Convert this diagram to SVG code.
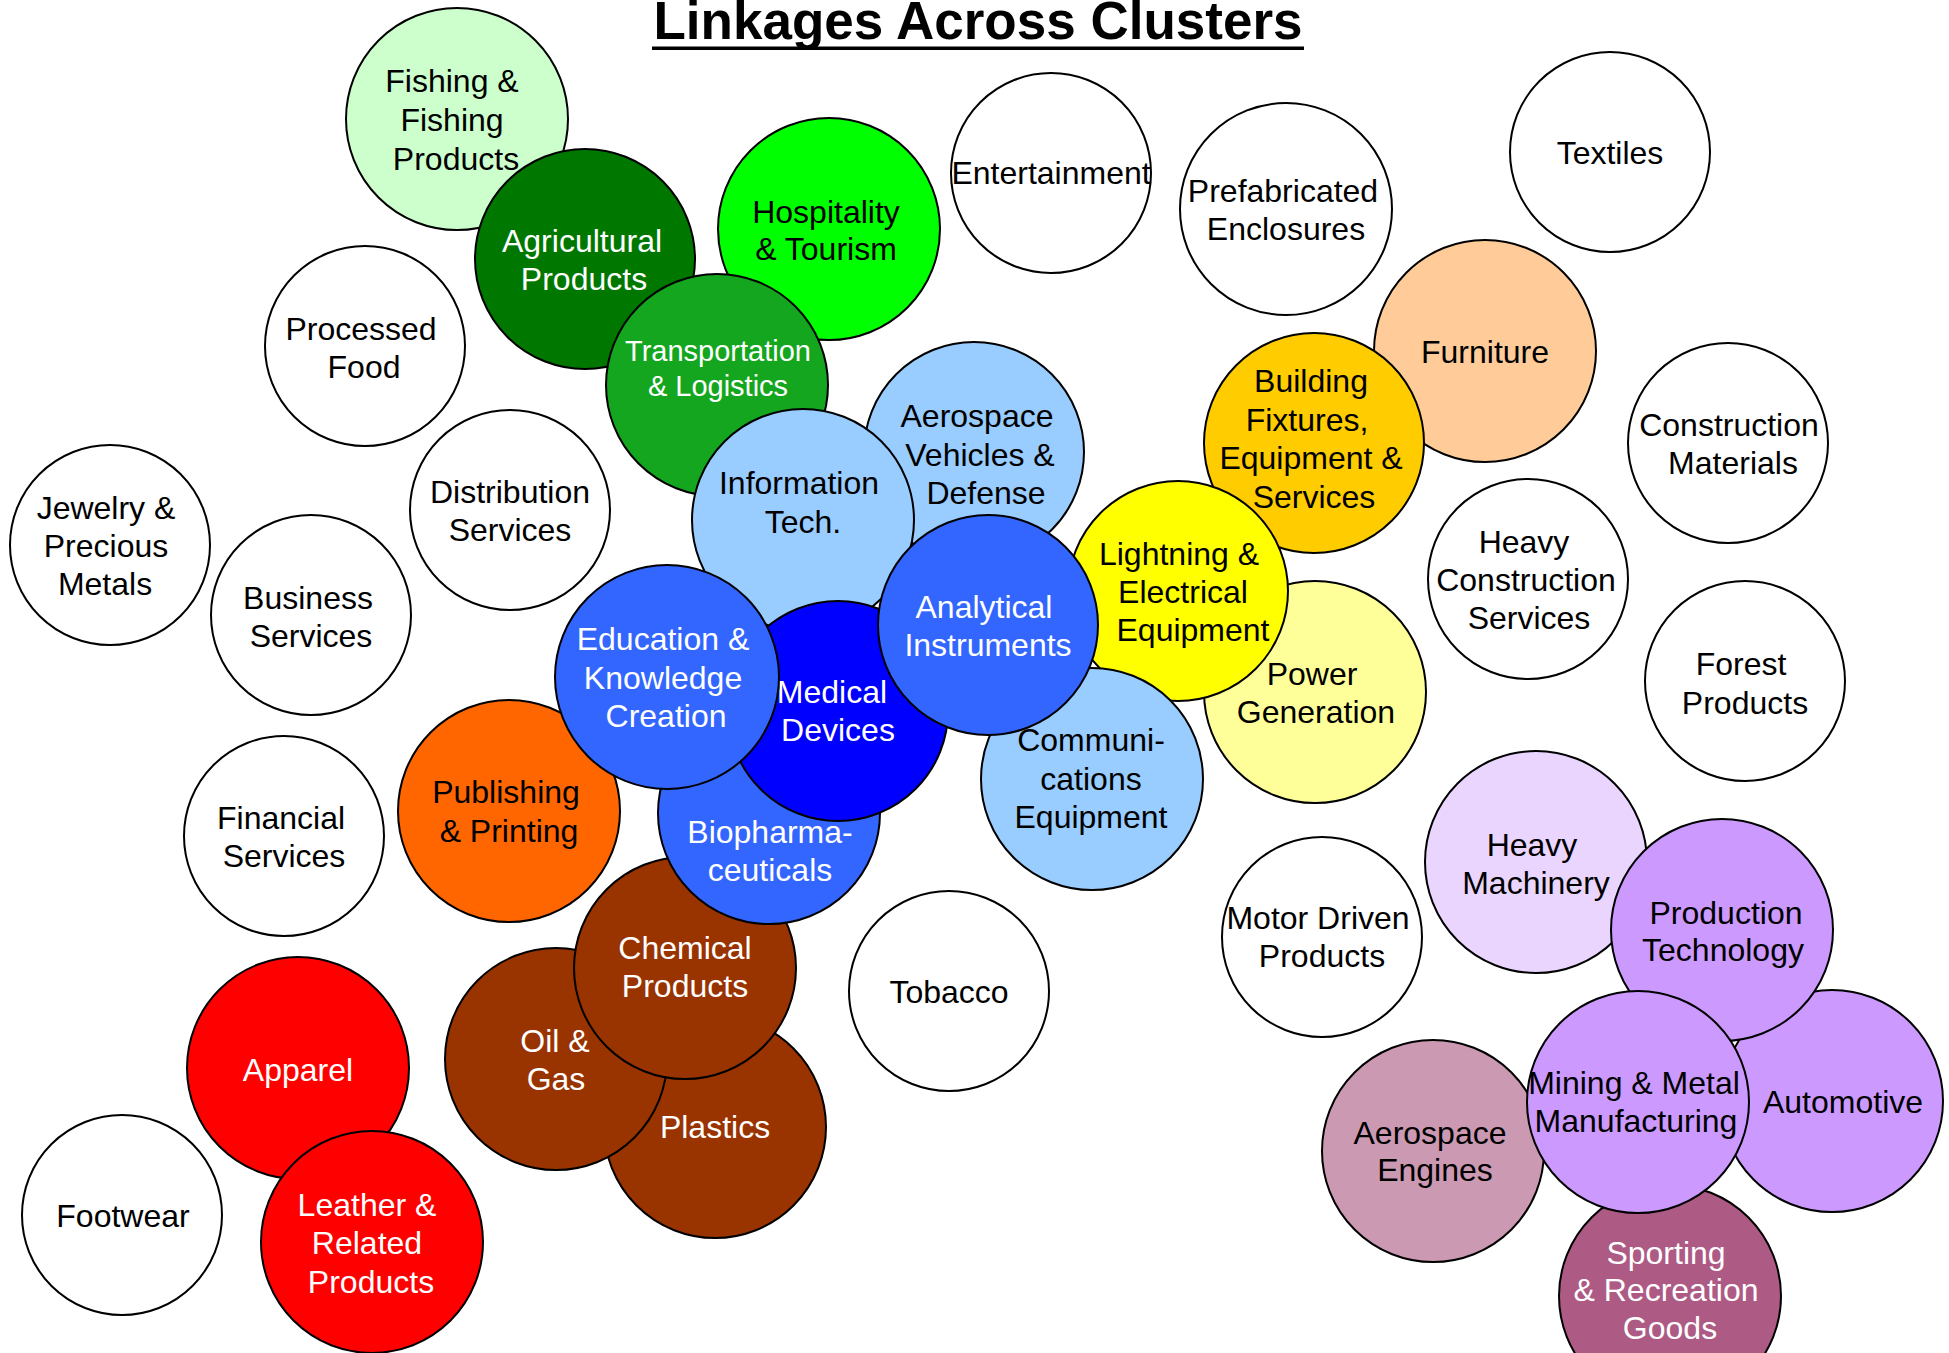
<svg xmlns="http://www.w3.org/2000/svg" width="1949" height="1353" viewBox="0 0 1949 1353">
<style>
circle{stroke:#000;stroke-width:2}
text{font-family:"Liberation Sans",Arial,sans-serif;font-size:32px;text-anchor:middle;fill:#000}
.w{fill:#fff}
.lb{fill:#99CCFF}
.mb{fill:#3366FF}
.br{fill:#993300}
.rd{fill:#FF0000}
.pu{fill:#CC99FF}
.title{font-size:53px;font-weight:bold}
</style>
<rect width="1949" height="1353" fill="#fff"/>
<g id="title">
<text class="title" x="978" y="39">Linkages Across Clusters</text>
<rect x="652" y="46.5" width="652" height="3.5" fill="#000"/>
</g>
<g id="connectors"></g>
<g id="fishing"><circle cx="457" cy="119" r="111" fill="#CCFFCC"/><text x="452" y="92">Fishing &amp;</text><text x="452" y="131">Fishing</text><text x="456" y="170">Products</text></g>
<g id="agricultural"><circle cx="585" cy="259" r="110" fill="#007800"/><text class="w" x="582" y="252">Agricultural</text><text class="w" x="584" y="290">Products</text></g>
<g id="hospitality"><circle cx="829" cy="229" r="111" fill="#00FF00"/><text x="826" y="223">Hospitality</text><text x="826" y="260">&amp; Tourism</text></g>
<g id="transportation"><circle cx="717" cy="385" r="111" fill="#14A61E"/><text class="w" x="718" y="361" style="font-size:29px">Transportation</text><text class="w" x="718" y="396" style="font-size:29px">&amp; Logistics</text></g>
<g id="entertainment"><circle cx="1051" cy="173" r="100" fill="#fff"/><text x="1051" y="184">Entertainment</text></g>
<g id="prefabricated"><circle cx="1286" cy="209" r="106" fill="#fff"/><text x="1283" y="202">Prefabricated</text><text x="1286" y="240">Enclosures</text></g>
<g id="textiles"><circle cx="1610" cy="152" r="100" fill="#fff"/><text x="1610" y="164">Textiles</text></g>
<g id="processed-food"><circle cx="365" cy="346" r="100" fill="#fff"/><text x="361" y="340">Processed</text><text x="364" y="378">Food</text></g>
<g id="jewelry"><circle cx="110" cy="545" r="100" fill="#fff"/><text x="106" y="519">Jewelry &amp;</text><text x="106" y="557">Precious</text><text x="105" y="595">Metals</text></g>
<g id="business"><circle cx="311" cy="615" r="100" fill="#fff"/><text x="308" y="609">Business</text><text x="311" y="647">Services</text></g>
<g id="distribution"><circle cx="510" cy="510" r="100" fill="#fff"/><text x="510" y="503">Distribution</text><text x="510" y="541">Services</text></g>
<g id="aerospace-vehicles"><circle cx="974" cy="452" r="110" class="lb"/><text x="977" y="427">Aerospace</text><text x="980" y="466">Vehicles &amp;</text><text x="986" y="504">Defense</text></g>
<g id="information-tech"><circle cx="803" cy="520" r="111" class="lb"/><text x="799" y="494">Information</text><text x="803" y="533">Tech.</text></g>
<g id="furniture"><circle cx="1485" cy="351" r="111" fill="#FFCC99"/><text x="1485" y="363">Furniture</text></g>
<g id="building"><circle cx="1314" cy="443" r="110" fill="#FFCC00"/><text x="1311" y="392">Building</text><text x="1307" y="431">Fixtures,</text><text x="1311" y="469">Equipment &amp;</text><text x="1314" y="508">Services</text></g>
<g id="construction-materials"><circle cx="1728" cy="443" r="100" fill="#fff"/><text x="1729" y="436">Construction</text><text x="1733" y="474">Materials</text></g>
<g id="heavy-construction"><circle cx="1528" cy="579" r="100" fill="#fff"/><text x="1524" y="553">Heavy</text><text x="1526" y="591">Construction</text><text x="1529" y="629">Services</text></g>
<g id="forest"><circle cx="1745" cy="681" r="100" fill="#fff"/><text x="1741" y="675">Forest</text><text x="1745" y="714">Products</text></g>
<g id="power"><circle cx="1315" cy="692" r="111" fill="#FFFF99"/><text x="1312" y="685">Power</text><text x="1316" y="723">Generation</text></g>
<g id="lightning"><circle cx="1178" cy="591" r="110" fill="#FFFF00"/><text x="1179" y="565">Lightning &amp;</text><text x="1183" y="603">Electrical</text><text x="1193" y="641">Equipment</text></g>
<g id="communications"><circle cx="1092" cy="779" r="111" class="lb"/><text x="1091" y="751">Communi-</text><text x="1091" y="790">cations</text><text x="1091" y="828">Equipment</text></g>
<g id="plastics"><circle cx="715" cy="1127" r="111" class="br"/><text class="w" x="715" y="1138">Plastics</text></g>
<g id="oil-gas"><circle cx="556" cy="1059" r="111" class="br"/><text class="w" x="555" y="1052">Oil &amp;</text><text class="w" x="556" y="1090">Gas</text></g>
<g id="chemical"><circle cx="685" cy="968" r="111" class="br"/><text class="w" x="685" y="959">Chemical</text><text class="w" x="685" y="997">Products</text></g>
<g id="biopharma"><circle cx="769" cy="813" r="111" class="mb"/><text class="w" x="770" y="843">Biopharma-</text><text class="w" x="770" y="881">ceuticals</text></g>
<g id="publishing"><circle cx="509" cy="811" r="111" fill="#FF6600"/><text x="506" y="803">Publishing</text><text x="509" y="842">&amp; Printing</text></g>
<g id="medical"><circle cx="838" cy="711" r="110" fill="#0000FF"/><text class="w" x="832" y="703">Medical</text><text class="w" x="838" y="741">Devices</text></g>
<g id="education"><circle cx="667" cy="677" r="112" class="mb"/><text class="w" x="663" y="650">Education &amp;</text><text class="w" x="663" y="689">Knowledge</text><text class="w" x="666" y="727">Creation</text></g>
<g id="analytical"><circle cx="988" cy="625" r="110" class="mb"/><text class="w" x="984" y="618">Analytical</text><text class="w" x="988" y="656">Instruments</text></g>
<g id="financial"><circle cx="284" cy="836" r="100" fill="#fff"/><text x="281" y="829">Financial</text><text x="284" y="867">Services</text></g>
<g id="tobacco"><circle cx="949" cy="991" r="100" fill="#fff"/><text x="949" y="1003">Tobacco</text></g>
<g id="motor-driven"><circle cx="1322" cy="937" r="100" fill="#fff"/><text x="1318" y="929">Motor Driven</text><text x="1322" y="967">Products</text></g>
<g id="apparel"><circle cx="298" cy="1068" r="111" class="rd"/><text class="w" x="298" y="1081">Apparel</text></g>
<g id="leather"><circle cx="372" cy="1242" r="111" class="rd"/><text class="w" x="367" y="1216">Leather &amp;</text><text class="w" x="367" y="1254">Related</text><text class="w" x="371" y="1293">Products</text></g>
<g id="footwear"><circle cx="122" cy="1215" r="100" fill="#fff"/><text x="123" y="1227">Footwear</text></g>
<g id="heavy-machinery"><circle cx="1536" cy="862" r="111" fill="#EAD5FF"/><text x="1532" y="856">Heavy</text><text x="1536" y="894">Machinery</text></g>
<g id="automotive"><circle cx="1832" cy="1101" r="111" class="pu"/><text x="1843" y="1113">Automotive</text></g>
<g id="production"><circle cx="1722" cy="930" r="111" class="pu"/><text x="1726" y="924">Production</text><text x="1723" y="961">Technology</text></g>
<g id="aerospace-engines"><circle cx="1433" cy="1151" r="111" fill="#CC99B3"/><text x="1430" y="1144">Aerospace</text><text x="1435" y="1181">Engines</text></g>
<g id="sporting"><circle cx="1670" cy="1296" r="111" fill="#AD5A85"/><text class="w" x="1666" y="1264">Sporting</text><text class="w" x="1666" y="1301">&amp; Recreation</text><text class="w" x="1670" y="1339">Goods</text></g>
<g id="mining"><circle cx="1638" cy="1102" r="111" class="pu"/><text x="1634" y="1094">Mining &amp; Metal</text><text x="1636" y="1132">Manufacturing</text></g>
</svg>
